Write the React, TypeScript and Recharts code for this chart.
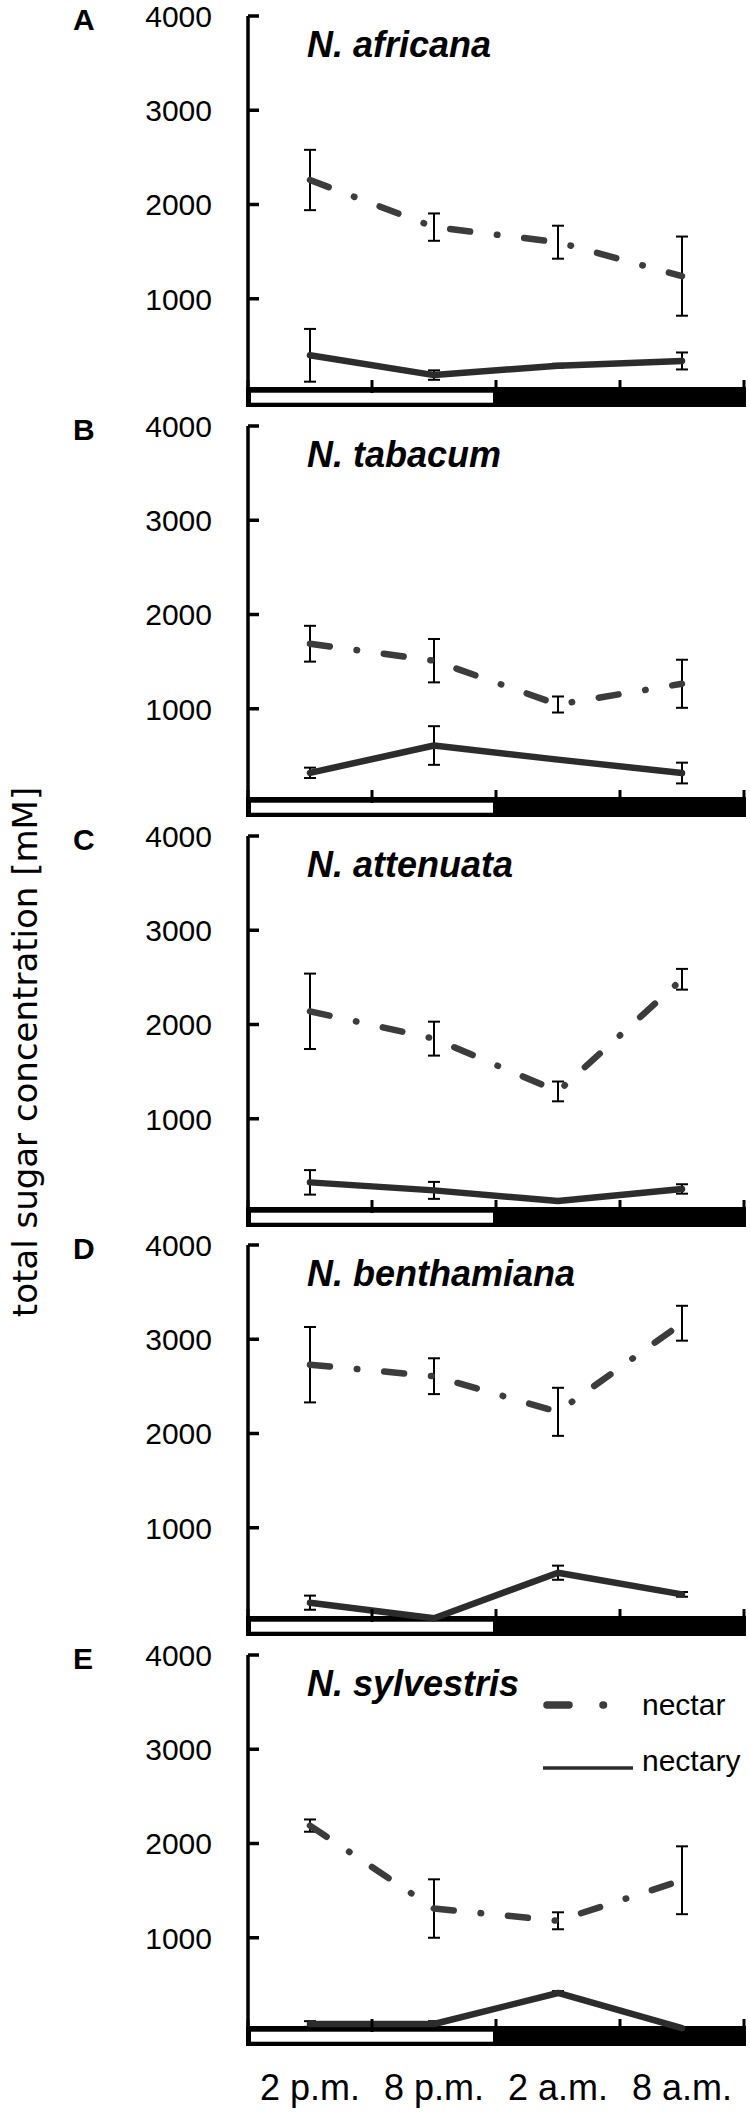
import React from 'react';
import { LineChart, Line, XAxis, YAxis, ErrorBar, ReferenceArea, Legend } from 'recharts';

// sampling times (x categories) and y ticks
const times = ['2 p.m.', '8 p.m.', '2 a.m.', '8 a.m.'];
const yTicks = [1000, 2000, 3000, 4000];
const panelLetters = ['A', 'B', 'C', 'D', 'E'];
const speciesNames = ['N. africana', 'N. tabacum', 'N. attenuata', 'N. benthamiana', 'N. sylvestris'];

// total sugar concentration [mM], mean and error per time point
const africanaNectar = [2260, 1760, 1600, 1240];
const africanaNectarErr = [320, 145, 175, 420];
const africanaNectary = [400, 190, 290, 340];
const africanaNectaryErr = [280, 50, 20, 90];

const tabacumNectar = [1690, 1510, 1045, 1265];
const tabacumNectarErr = [190, 230, 85, 255];
const tabacumNectary = [320, 610, 460, 318];
const tabacumNectaryErr = [55, 205, 15, 110];

const attenuataNectar = [2140, 1850, 1290, 2480];
const attenuataNectarErr = [400, 180, 105, 110];
const attenuataNectary = [325, 240, 127, 255];
const attenuataNectaryErr = [130, 90, 10, 50];

const benthamianaNectar = [2730, 2608, 2230, 3170];
const benthamianaNectarErr = [400, 190, 255, 185];
const benthamianaNectary = [205, 40, 523, 293];
const benthamianaNectaryErr = [75, 10, 75, 25];

const sylvestrisNectar = [2190, 1310, 1180, 1610];
const sylvestrisNectarErr = [65, 310, 90, 360];
const sylvestrisNectary = [85, 85, 414, 40];
const sylvestrisNectaryErr = [30, 30, 20, 10];

const panels = [
    { nectar: africanaNectar, nectarErr: africanaNectarErr, nectary: africanaNectary, nectaryErr: africanaNectaryErr },
    { nectar: tabacumNectar, nectarErr: tabacumNectarErr, nectary: tabacumNectary, nectaryErr: tabacumNectaryErr },
    { nectar: attenuataNectar, nectarErr: attenuataNectarErr, nectary: attenuataNectary, nectaryErr: attenuataNectaryErr },
    { nectar: benthamianaNectar, nectarErr: benthamianaNectarErr, nectary: benthamianaNectary, nectaryErr: benthamianaNectaryErr },
    { nectar: sylvestrisNectar, nectarErr: sylvestrisNectarErr, nectary: sylvestrisNectary, nectaryErr: sylvestrisNectaryErr },
];

const FONT = '"Liberation Sans", Arial, sans-serif';
const NECTAR_COLOR = '#3c3c3c';
const NECTARY_COLOR = '#2c2c2c';
const NECTAR_DASH = '20 27 0.5 27';

const boundaryTicks = times.map((_, i) => i).concat(times.length);
const labelTicks = times.map((_, i) => i + 0.5);

const XTick = (props: any) => {
    const { x, y, payload, showLabel } = props;
    const v = payload.value;
    if (Number.isInteger(v)) {
        return <line x1={x} x2={x} y1={y - 13} y2={y} stroke="#000" strokeWidth={3} />;
    }
    if (!showLabel) return null;
    return (
        <text x={x} y={y + 68} textAnchor="middle" fontFamily={FONT} fontSize={36} fill="#000">
            {times[Math.floor(v)]}
        </text>
    );
};

const YTick = (props: any) => {
    const { x, y, payload } = props;
    return (
        <g>
            <line x1={x} x2={x + 11} y1={y} y2={y} stroke="#000" strokeWidth={3.5} />
            <text x={x - 36} y={y + 10.8} textAnchor="end" fontFamily={FONT} fontSize={30} fill="#000">
                {payload.value}
            </text>
        </g>
    );
};

const WhiteBox = (props: any) => {
    const { x, y, width, height } = props;
    return <rect x={x + 3} y={y} width={width - 6} height={height} fill="#fff" />;
};

const renderLegend = (props: any) => {
    const items = props.payload || [];
    return (
        <svg width={210} height={100} style={{ overflow: 'visible' }}>
            {items.map((entry: any) => {
                const isNectar = entry.dataKey === 'nectar';
                const rowY = isNectar ? 15 : 78;
                return (
                    <g key={entry.dataKey}>
                        {isNectar ? (
                            <line x1={7} x2={70} y1={rowY} y2={rowY} stroke={NECTAR_COLOR} strokeWidth={7.5}
                                strokeLinecap="round" strokeDasharray="22 34 0.5 200" />
                        ) : (
                            <line x1={3} x2={93} y1={rowY} y2={rowY} stroke={NECTARY_COLOR} strokeWidth={3.5} />
                        )}
                        <text x={102} y={isNectar ? 25 : 81} fontFamily={FONT} fontSize={30} fill="#000">{entry.value}</text>
                    </g>
                );
            })}
        </svg>
    );
};

function Panel({ index }: { index: number }) {
    const s = panels[index];
    const last = index === panels.length - 1;
    const data = times.map((t, i) => ({
        x: i + 0.5,
        time: t,
        nectar: s.nectar[i],
        nectarErr: s.nectarErr[i],
        nectary: s.nectary[i],
        nectaryErr: s.nectaryErr[i],
    }));
    const ticks = last ? [...boundaryTicks, ...labelTicks].sort((a, b) => a - b) : boundaryTicks;
    return (
        <div style={{ position: 'absolute', left: 0, top: Math.round(409.75 * index) }}>
            <LineChart width={750} height={last ? 474 : 410} data={data} margin={{ top: 16, right: 6, bottom: 0, left: 0 }}>
                <XAxis
                    type="number"
                    dataKey="x"
                    domain={[0, times.length]}
                    ticks={ticks}
                    interval={0}
                    height={last ? 81 : 17}
                    axisLine={false}
                    tickLine={false}
                    tickSize={0}
                    tickMargin={0}
                    tick={(p: any) => <XTick {...p} showLabel={last} />}
                />
                <YAxis
                    type="number"
                    domain={[0, 4000]}
                    ticks={yTicks}
                    interval={0}
                    width={248}
                    axisLine={{ stroke: '#000', strokeWidth: 3.5 }}
                    tickLine={false}
                    tickSize={0}
                    tickMargin={0}
                    tick={(p: any) => <YTick {...p} />}
                />
                {/* day / night bar under the axis */}
                <ReferenceArea x1={0} x2={4} y1={-127} y2={42} ifOverflow="visible"
                    fill="#000" fillOpacity={1} stroke="#000" strokeWidth={4} />
                <ReferenceArea x1={0} x2={2} y1={-103} y2={3} ifOverflow="visible" shape={WhiteBox} />
                <Line
                    type="linear"
                    dataKey="nectar"
                    name="nectar"
                    stroke={NECTAR_COLOR}
                    strokeWidth={6.5}
                    strokeDasharray={NECTAR_DASH}
                    strokeLinecap="round"
                    strokeLinejoin="round"
                    dot={false}
                    activeDot={false}
                    isAnimationActive={false}
                >
                    <ErrorBar dataKey="nectarErr" direction="y" width={6} stroke="#000" strokeWidth={2} />
                </Line>
                <Line
                    type="linear"
                    dataKey="nectary"
                    name="nectary"
                    stroke={NECTARY_COLOR}
                    strokeWidth={6.5}
                    strokeLinecap="round"
                    strokeLinejoin="round"
                    dot={false}
                    activeDot={false}
                    isAnimationActive={false}
                >
                    <ErrorBar dataKey="nectaryErr" direction="y" width={6} stroke="#000" strokeWidth={2} />
                </Line>
                <text x={73} y={30} fontFamily={FONT} fontWeight="bold" fontSize={30} fill="#000">
                    {panelLetters[index]}
                </text>
                <text x={307} y={57} fontFamily={FONT} fontWeight="bold" fontStyle="italic" fontSize={36} fill="#000">
                    {speciesNames[index]}
                </text>
                {last && (
                    <Legend
                        layout="horizontal"
                        verticalAlign="middle"
                        align="center"
                        content={renderLegend}
                        wrapperStyle={{ left: 540, top: 51, width: 210, height: 100 }}
                    />
                )}
            </LineChart>
        </div>
    );
}

export default function App() {
    return (
        <div style={{ position: 'absolute', left: 0, top: 0, width: 750, height: 2113, background: '#fff', overflow: 'hidden' }}>
            <svg width={60} height={2113} style={{ position: 'absolute', left: 0, top: 0 }}>
                <text
                    x={37}
                    y={1052}
                    transform="rotate(-90 37 1052)"
                    textAnchor="middle"
                    fontFamily='"DejaVu Sans", Verdana, sans-serif'
                    fontSize={34}
                    fill="#000"
                >
                    total sugar concentration [mM]
                </text>
            </svg>
            {panels.map((_, i) => (
                <Panel key={i} index={i} />
            ))}
        </div>
    );
}
